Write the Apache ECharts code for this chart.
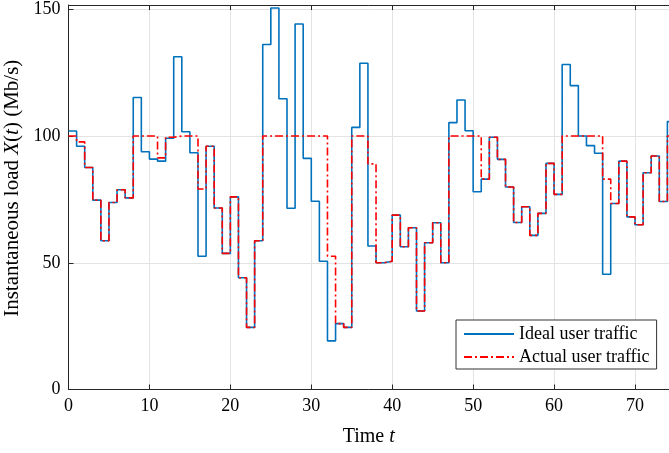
<!DOCTYPE html>
<html><head><meta charset="utf-8">
<script src="https://cdn.jsdelivr.net/npm/echarts@6/dist/echarts.min.js"></script>
<style>html,body{margin:0;padding:0;background:#fff}#c{width:669px;height:453px}</style>
</head><body><div id="c"></div>
<script>
const times = [0,1,2,3,4,5,6,7,8,9,10,11,12,13,14,15,16,17,18,19,20,21,22,23,24,25,26,27,28,29,30,31,32,33,34,35,36,37,38,39,40,41,42,43,44,45,46,47,48,49,50,51,52,53,54,55,56,57,58,59,60,61,62,63,64,65,66,67,68,69,70,71,72,73,74,75];
const idealTraffic = [102,96,87.6,74.7,58.7,73.8,78.8,75.6,115.2,93.8,90.9,90.1,99.1,131.3,101.7,93.4,52.6,96,71.6,53.7,76,44.1,24.5,58.7,136.1,150.5,114.7,71.5,144.2,91.2,74.3,50.6,19.2,26,24.5,103.4,128.7,56.6,50,50.6,68.8,56.3,63.8,31,57.9,65.8,50,105.3,114.2,102.1,78,83,99.5,90.8,79.9,65.9,72.1,60.8,69.5,89.2,77,128.2,119.9,100,96.2,93.2,45.5,73.4,90.1,68.1,65,85.5,92.1,74.2,105.7,105.7];
const actualTraffic = [100,97.7,87.6,74.7,58.7,73.8,78.8,75.6,100,100,100,91.4,99.5,100,100,100,79.1,96,71.6,53.7,76,44.1,24.5,58.7,100,100,100,100,100,100,100,100,52.6,26,24.5,100,100,89,50,50.6,68.8,56.3,63.8,31,57.9,65.8,50,100,100,100,100,83,99.5,90.8,79.9,65.9,72.1,60.8,69.5,89.2,77,100,100,100,100,100,83,73.4,90.1,68.1,65,85.5,92.1,74.2,100,100];
const xTicks = [0,10,20,30,40,50,60,70];
const yTicks = [0,50,100,150];
const seriesNames = ['Ideal user traffic','Actual user traffic'];

const serif = 'Liberation Serif, Times New Roman, serif';
const chart = echarts.init(document.getElementById('c'), null, {renderer:'canvas'});
const pair = arr => times.map((t,i)=>[t,arr[i]]);
const axisCol = '#262626';
chart.setOption({
  animation:false,
  backgroundColor:'#fff',
  grid:{left:68.5, right:0, top:5, bottom:63.5, containLabel:false, outerBoundsMode:'none'},
  xAxis:[{
    type:'value', min:0, max:74.2, interval:10,
    axisLine:{show:true, lineStyle:{color:axisCol, width:1}},
    axisTick:{show:true, inside:true, length:5, lineStyle:{color:axisCol}},
    axisLabel:{color:'#000', fontFamily:serif, fontSize:18, margin:8,
      formatter: v => xTicks.includes(v) ? String(v) : ''},
    splitLine:{show:true, lineStyle:{color:'#e3e3e3', width:1}},
    name:'{n|Time }{i|t}', nameLocation:'middle', nameGap:37,
    nameTextStyle:{rich:{n:{fontFamily:serif,fontSize:20,color:'#000'},i:{fontFamily:serif,fontSize:20,fontStyle:'italic',color:'#000'}}}
  },{
    type:'value', position:'top', min:0, max:74.2, interval:10,
    axisLine:{show:true, lineStyle:{color:axisCol, width:1}},
    axisTick:{show:true, inside:true, length:5, lineStyle:{color:axisCol}},
    axisLabel:{show:false}, splitLine:{show:false}
  }],
  yAxis:[{
    type:'value', min:0, max:151.7, interval:50,
    axisLine:{show:true, lineStyle:{color:axisCol, width:1}},
    axisTick:{show:true, inside:true, length:5, lineStyle:{color:axisCol}},
    axisLabel:{color:'#000', fontFamily:serif, fontSize:18, margin:8,
      formatter: v => yTicks.includes(v) ? String(v) : ''},
    splitLine:{show:true, lineStyle:{color:'#e3e3e3', width:1}},
    name:'{n|Instantaneous load }{i|X}{n|(}{i|t}{n|) (Mb/s)}', nameLocation:'middle', nameGap:40, nameRotate:90,
    nameTextStyle:{padding:[0,0,0,18], rich:{n:{fontFamily:serif,fontSize:21,color:'#000'},i:{fontFamily:serif,fontSize:21,fontStyle:'italic',color:'#000'}}}
  }],
  legend:{
    left:456, top:320, orient:'vertical', itemWidth:50, itemHeight:14, itemGap:5,
    padding:[5,7,3,7], borderColor:'#333', borderWidth:1, backgroundColor:'#fff',
    itemStyle:{opacity:0},
    textStyle:{fontFamily:serif, fontSize:18, color:'#000'},
    data:seriesNames
  },
  series:[{
    name:seriesNames[0], type:'line', step:'end', showSymbol:false, symbol:'none',
    data:pair(idealTraffic), lineStyle:{color:'#0072BD', width:1.6}, itemStyle:{color:'#0072BD'}, z:2
  },{
    name:seriesNames[1], type:'line', step:'end', showSymbol:false, symbol:'none',
    data:pair(actualTraffic), lineStyle:{color:'#FF0000', width:1.6, type:[8,3,2,3]}, itemStyle:{color:'#FF0000'}, z:3
  }]
});
</script></body></html>
